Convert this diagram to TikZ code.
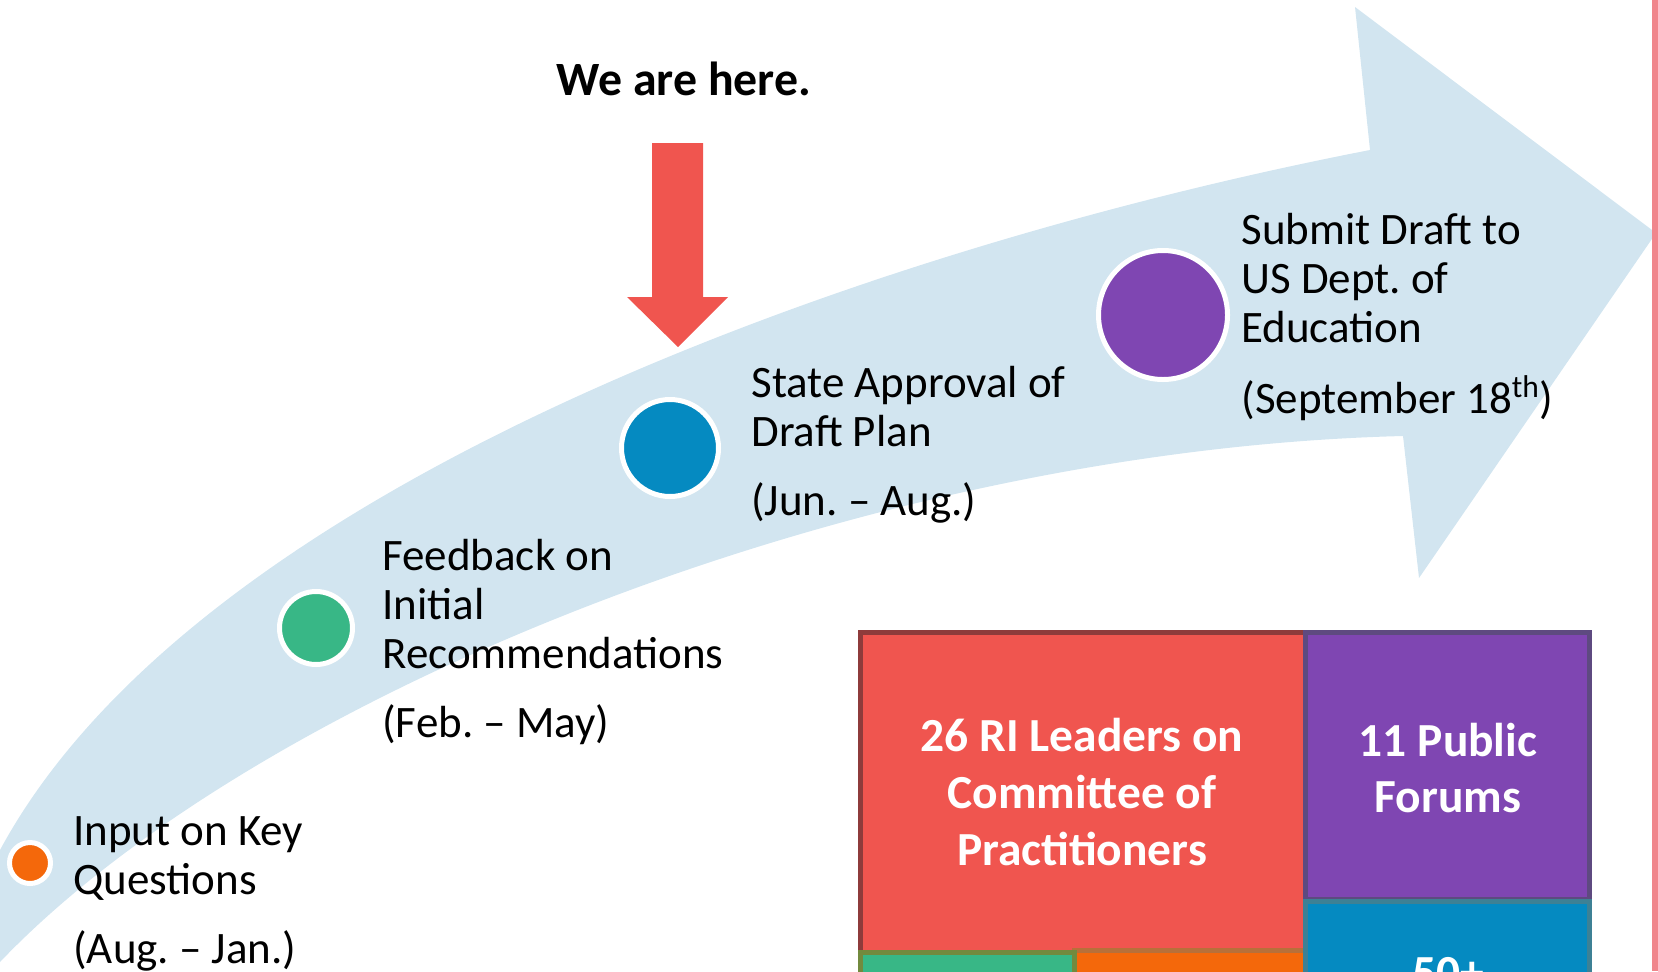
\documentclass[tikz,border=0pt]{standalone}
\usepackage{fontspec}
\setmainfont{Carlito}

\definecolor{bandblue}{HTML}{D2E5F0}
\definecolor{arrowred}{HTML}{F0554F}
\definecolor{edgepink}{HTML}{F0868C}
\definecolor{dotorange}{HTML}{F4680B}
\definecolor{dotgreen}{HTML}{38B786}
\definecolor{dotblue}{HTML}{058AC1}
\definecolor{dotpurple}{HTML}{7F46B2}
\definecolor{lineared}{HTML}{8E3B3B}
\definecolor{linepurple}{HTML}{5E4A80}
\definecolor{lineblue}{HTML}{3D8195}
\definecolor{linegreen}{HTML}{728A3E}
\definecolor{lineorange}{HTML}{B7703A}

\tikzset{
  hito/.style={circle, draw=white, line width=1mm, inner sep=0pt},
  etiqueta/.style={anchor=base west, align=flush left, text width=8cm, inner sep=0pt,
    font=\frenchspacing\fontsize{25.6}{27.9}\selectfont},
  bloque/.style={line width=1mm},
  cifra/.style={align=center, text=white, inner sep=0pt,
    font=\bfseries\fontsize{27}{32.4}\selectfont},
}

\begin{document}
\begin{tikzpicture}[x=0.2mm, y=-0.2mm]
    \useasboundingbox (0,0) rectangle (1658,971);
    \clip (0,0) rectangle (1658,971);

    % Flecha curva de fondo
    \fill[bandblue] (0,850) .. controls (200,480) and (880,245) .. (1370,150)
      -- (1355,7) -- (1656,233) -- (1419,578) -- (1403,436)
      .. controls (850,450) and (250,700) .. (0,962) -- cycle;

    % Borde derecho
    \fill[edgepink] (1652,0) rectangle (1658,971);

    % Flecha roja
    \fill[arrowred] (652,143) -- (703,143) -- (703,297) -- (728,297)
      -- (678,347) -- (627,297) -- (652,297) -- cycle;
    \node[anchor=base, inner sep=0pt, font=\bfseries\fontsize{27.2}{30}\selectfont] (aqui) at (684,95) {We are here.};

    % Hitos
    \node[hito, fill=dotorange, minimum size=8.2mm] (hito1) at (30,863) {};
    \node[hito, fill=dotgreen, minimum size=14.6mm] (hito2) at (316,628) {};
    \node[hito, fill=dotblue, minimum size=19.4mm] (hito3) at (670,448) {};
    \node[hito, fill=dotpurple, minimum size=25.8mm] (hito4) at (1163,315) {};

    % Etiquetas de los hitos
    \node[etiqueta] (texto1) at (73,845) {Input on Key\\Questions\\[11.5pt](Aug. – Jan.)};
    \node[etiqueta] (texto2) at (382,570) {Feedback on\\Initial\\Recommendations\\[11.5pt](Feb. – May)};
    \node[etiqueta] (texto3) at (751,397) {State Approval of\\Draft Plan\\[11.5pt](Jun. – Aug.)};
    \node[etiqueta] (texto4) at (1241,244) {Submit Draft to\\US Dept. of\\Education\\[12.5pt](September 18\textsuperscript{th})};

    % Bloques (borde hacia dentro, cada uno tapa el borde del anterior)
    \filldraw[bloque, fill=arrowred, draw=lineared] (860.5,632.5) rectangle (1306.5,952.5);
    \filldraw[bloque, fill=dotorange, draw=lineorange] (1074.5,950.5) rectangle (1306.5,1002.5);
    \filldraw[bloque, fill=dotgreen, draw=linegreen] (860.5,952.5) rectangle (1074.5,1002.5);
    \filldraw[bloque, fill=dotpurple, draw=linepurple] (1305.5,632.5) rectangle (1589.5,899.5);
    \filldraw[bloque, fill=dotblue, draw=lineblue] (1305.5,901.5) rectangle (1589.5,1002.5);

    \node[cifra] (comite) at (1082,792) {26 RI Leaders on\\Committee of\\Practitioners};
    \node[cifra] (foros) at (1448,768) {11 Public\\Forums};
    \node[cifra, anchor=base] (otros) at (1448,988) {50+};

\end{tikzpicture}
\end{document}
